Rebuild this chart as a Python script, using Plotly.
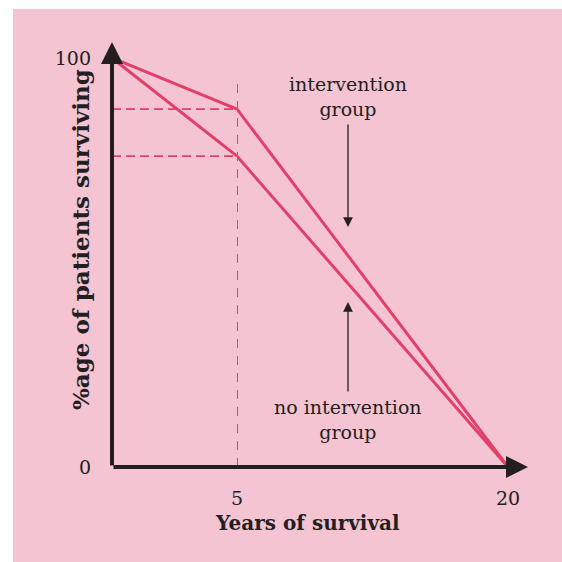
import plotly.graph_objects as go

# ---- data ----
years = [0, 5, 20]
intervention = [100, 87.5, 0]
no_intervention = [100, 76, 0]
x_ticks = [5, 20]
x_tick_labels = ["5", "20"]
y_ticks = [0, 100]
y_tick_labels = ["0", "100"]
guide_top = 95  # top of the vertical dashed guide at year 5

RED = "#E0406A"
INK = "#231F20"
PINK = "#F4C4D2"
FONT = "DejaVu Serif"

# pixel layout of plot area
L, R, T, B = 112, 528, 42, 467
W, H = 562, 562
pw, ph = R - L, B - T
split = years[1]
dom_split = (237 - L) / pw
x2_ppu = (508 - 237) / (years[2] - split)
x2_max = split + (R - 237) / x2_ppu
y_ppu = (B - 58) / 100
y_max = 100 + (58 - T) / y_ppu

fig = go.Figure()

def seg(xs, ys, lo, hi):
    pts = [(a, b) for a, b in zip(xs, ys) if lo <= a <= hi]
    return [p[0] for p in pts], [p[1] for p in pts]

for ys in (intervention, no_intervention):
    a, b = seg(years, ys, 0, split)
    fig.add_trace(go.Scatter(x=a, y=b, xaxis="x", yaxis="y", mode="lines",
                             line=dict(color=RED, width=3), showlegend=False, hoverinfo="skip"))
    a, b = seg(years, ys, split, years[-1])
    fig.add_trace(go.Scatter(x=a, y=b, xaxis="x2", yaxis="y", mode="lines",
                             line=dict(color=RED, width=3), showlegend=False, hoverinfo="skip"))

# dashed guides
for v in (intervention[1], no_intervention[1]):
    fig.add_trace(go.Scatter(x=[years[0], split], y=[v, v], xaxis="x", yaxis="y", mode="lines",
                             line=dict(color=RED, width=1.6, dash="9px,5px"),
                             showlegend=False, hoverinfo="skip"))
fig.add_trace(go.Scatter(x=[split, split], y=[0, guide_top], xaxis="x2", yaxis="y", mode="lines",
                         line=dict(color=RED, width=2, dash="9px,8px"),
                         showlegend=False, hoverinfo="skip"))

# background pink panel with white border
fig.add_shape(type="rect", xref="paper", yref="paper",
              x0=(13 - L) / pw, x1=(W - L) / pw + 0.01,
              y0=(B - H) / ph - 0.01, y1=(B - 9) / ph,
              fillcolor=PINK, line=dict(width=0), layer="below")

ann = []
# axis arrows
ann.append(dict(xref="paper", yref="paper", x=0, y=1, ax=0, ay=ph, axref="pixel", ayref="pixel",
                showarrow=True, arrowhead=2, arrowsize=1.1, arrowwidth=4, arrowcolor=INK, text=""))
ann.append(dict(xref="paper", yref="paper", x=1, y=0, ax=-pw, ay=0,
                showarrow=True, arrowhead=2, arrowsize=1.1, arrowwidth=4, arrowcolor=INK, text=""))

txt_font = dict(family=FONT, size=19, color=INK)
x_lab = split + (348 - 237) / x2_ppu
ann.append(dict(xref="x2", yref="y", x=x_lab, y=(B - 96) / y_ppu, yanchor="middle",
                text="intervention<br>group", showarrow=False, font=txt_font))
ann.append(dict(xref="x2", yref="y", x=x_lab, y=(B - 419) / y_ppu, yanchor="middle",
                text="no intervention<br>group", showarrow=False, font=txt_font))
# pointer arrows
ann.append(dict(xref="x2", yref="y", x=x_lab, y=(B - 227) / y_ppu,
                ax=x_lab, ay=(B - 123) / y_ppu, axref="x2", ayref="y",
                showarrow=True, arrowhead=2, arrowsize=1.5, arrowwidth=1.3, arrowcolor=INK, text=""))
ann.append(dict(xref="x2", yref="y", x=x_lab, y=(B - 302) / y_ppu,
                ax=x_lab, ay=(B - 393) / y_ppu, axref="x2", ayref="y",
                showarrow=True, arrowhead=2, arrowsize=1.5, arrowwidth=1.3, arrowcolor=INK, text=""))
# axis titles
ann.append(dict(xref="paper", yref="paper", x=(307 - L) / pw, y=(B - 523) / ph, yanchor="middle",
                text="<b>Years of survival</b>", showarrow=False,
                font=dict(family=FONT, size=20, color=INK)))
ann.append(dict(xref="paper", yref="paper", x=(80 - L) / pw, y=(B - 240) / ph, xanchor="center",
                text="<b>%age of patients surviving</b>", showarrow=False, textangle=-90,
                font=dict(family=FONT, size=23, color=INK)))

fig.update_layout(
    width=W, height=H,
    margin=dict(l=L, r=W - R, t=T, b=H - B, pad=0),
    paper_bgcolor="white", plot_bgcolor="rgba(0,0,0,0)",
    showlegend=False,
    annotations=ann,
    xaxis=dict(domain=[0, dom_split], range=[0, split], showgrid=False, zeroline=False,
               showticklabels=False, ticks="", showline=False),
    xaxis2=dict(domain=[dom_split, 1], range=[split, x2_max], showgrid=False, zeroline=False,
                tickvals=x_ticks, ticktext=x_tick_labels, ticks="", showline=False,
                ticklabelstandoff=18, anchor="y",
                tickfont=dict(family=FONT, size=19, color=INK)),
    yaxis=dict(range=[0, y_max], showgrid=False, zeroline=False, tickvals=y_ticks,
               ticktext=y_tick_labels, ticks="", showline=False, ticklabelstandoff=20,
               tickfont=dict(family=FONT, size=19, color=INK)),
)

fig.write_html("out.html", config={"displayModeBar": False},
               post_script="document.body.style.margin='0';")
